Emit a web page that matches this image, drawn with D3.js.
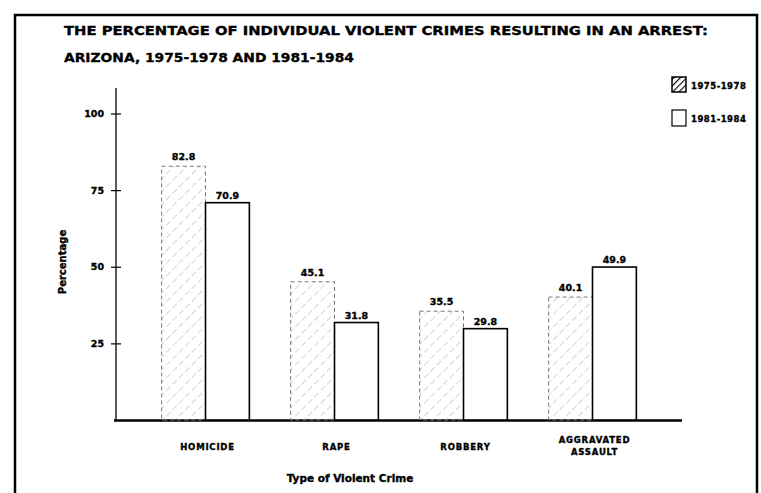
<html>
<head>
<meta charset="UTF-8" />
<script src="https://cdn.jsdelivr.net/npm/d3@7"></script>
<style>
  body { margin: 0; background: white; }
  text { font-family: "DejaVu Sans", sans-serif; font-weight: bold; fill: black; }
  .heavy { stroke: black; stroke-width: 0.35px; }
</style>
</head>
<body>
<div id="chart"></div>
<script>
// data
const crimes = ["HOMICIDE", "RAPE", "ROBBERY", "AGGRAVATED ASSAULT"];
const periods = ["1975-1978", "1981-1984"];
const early = [82.8, 45.1, 35.5, 40.1];
const late = [70.9, 31.8, 29.8, 49.9];
const yTicks = [25, 50, 75, 100];

const width = 761, height = 493;

const svg = d3.select("#chart").append("svg")
    .attr("width", width)
    .attr("height", height);

// hatch pattern for the older period
const defs = svg.append("defs");
defs.append("pattern")
    .attr("id", "hatch")
    .attr("patternUnits", "userSpaceOnUse")
    .attr("width", 9).attr("height", 9)
    .attr("patternTransform", "rotate(45)")
    .append("line")
    .attr("x1", 0).attr("y1", 0).attr("x2", 0).attr("y2", 9)
    .attr("stroke", "#aaa").attr("stroke-width", 1)
    .attr("stroke-dasharray", "3,3");
defs.append("pattern")
    .attr("id", "hatchDark")
    .attr("patternUnits", "userSpaceOnUse")
    .attr("width", 4.5).attr("height", 4.5)
    .attr("patternTransform", "rotate(45)")
    .append("line")
    .attr("x1", 0).attr("y1", 0).attr("x2", 0).attr("y2", 4.5)
    .attr("stroke", "black").attr("stroke-width", 2.2);

// frame of the figure (open at the bottom)
svg.append("path")
    .attr("d", "M15,493 V15 H757 V493")
    .attr("fill", "none")
    .attr("stroke", "black")
    .attr("stroke-width", 2.5);

// title
svg.append("text")
    .attr("class", "heavy")
    .attr("x", 64).attr("y", 35)
    .attr("textLength", 644).attr("lengthAdjust", "spacingAndGlyphs")
    .style("font-size", "12.5px")
    .text("THE PERCENTAGE OF INDIVIDUAL VIOLENT CRIMES RESULTING IN AN ARREST:");
svg.append("text")
    .attr("class", "heavy")
    .attr("x", 64).attr("y", 62)
    .attr("textLength", 290).attr("lengthAdjust", "spacingAndGlyphs")
    .style("font-size", "12.5px")
    .text("ARIZONA, 1975-1978 AND 1981-1984");

// scales
const y = d3.scaleLinear().domain([0, 100]).range([420, 113.5]);
const x = d3.scaleBand().domain(crimes).range([141, 657])
    .paddingInner(0.32).paddingOuter(0.16);
const xSub = d3.scaleBand().domain(periods).range([0, x.bandwidth()]);

// axes
const yAxis = svg.append("g")
    .attr("transform", "translate(116,0)")
    .call(d3.axisLeft(y).tickValues(yTicks).tickSize(5).tickPadding(7));
yAxis.select(".domain").remove();
yAxis.selectAll(".tick line").attr("x1", -5).attr("x2", 5).attr("stroke-width", 1.2);
yAxis.selectAll(".tick text")
    .attr("class", "heavy")
    .style("font-size", "9.5px")
    .style("font-family", "DejaVu Sans, sans-serif")
    .style("font-weight", "bold");

svg.append("line")
    .attr("x1", 116).attr("x2", 116)
    .attr("y1", 88).attr("y2", y(0))
    .attr("stroke", "black").attr("stroke-width", 1.3);
svg.append("line")
    .attr("x1", 114).attr("x2", 682)
    .attr("y1", y(0) + 0.5).attr("y2", y(0) + 0.5)
    .attr("stroke", "black").attr("stroke-width", 2.5);

svg.append("text")
    .attr("class", "heavy")
    .attr("transform", "translate(66,262) rotate(-90)")
    .attr("text-anchor", "middle")
    .style("font-size", "10px")
    .text("Percentage");

// bars
const groups = svg.append("g").selectAll("g")
    .data(crimes)
    .join("g")
    .attr("transform", d => "translate(" + x(d) + ",0)");

groups.append("rect")
    .attr("x", xSub(periods[0]))
    .attr("y", (d, i) => y(early[i]))
    .attr("width", xSub.bandwidth())
    .attr("height", (d, i) => y(0) - y(early[i]))
    .attr("fill", "url(#hatch)")
    .attr("stroke", "#777")
    .attr("stroke-width", 1)
    .attr("stroke-dasharray", "4,3");

groups.append("rect")
    .attr("x", xSub(periods[1]))
    .attr("y", (d, i) => y(late[i]))
    .attr("width", xSub.bandwidth())
    .attr("height", (d, i) => y(0) - y(late[i]))
    .attr("fill", "white")
    .attr("stroke", "black")
    .attr("stroke-width", 1.6);

// value labels
groups.append("text")
    .attr("class", "heavy")
    .attr("x", xSub(periods[0]) + xSub.bandwidth() / 2)
    .attr("y", (d, i) => y(early[i]) - 6)
    .attr("text-anchor", "middle")
    .style("font-size", "9.5px")
    .text((d, i) => early[i].toFixed(1));
groups.append("text")
    .attr("class", "heavy")
    .attr("x", xSub(periods[1]) + xSub.bandwidth() / 2)
    .attr("y", (d, i) => y(late[i]) - 4)
    .attr("text-anchor", "middle")
    .style("font-size", "9.5px")
    .text((d, i) => late[i].toFixed(1));

// category labels, long ones split on two lines
const catLabels = groups.append("text")
    .attr("class", "heavy")
    .attr("text-anchor", "middle")
    .style("font-size", "8.5px")
    .style("letter-spacing", "0.8px");
catLabels.each(function(d) {
    const words = d.split(" ");
    const t = d3.select(this);
    const top = words.length > 1 ? 443 : 450;
    words.forEach((w, k) => {
        t.append("tspan")
            .attr("x", x.bandwidth() / 2 + 2)
            .attr("y", top + k * 12)
            .text(w);
    });
});

svg.append("text")
    .attr("class", "heavy")
    .attr("x", 350).attr("y", 482)
    .attr("text-anchor", "middle")
    .style("font-size", "10.5px")
    .text("Type of Violent Crime");

// legend
const legend = svg.append("g");
legend.append("rect")
    .attr("x", 672).attr("y", 77).attr("width", 14).attr("height", 15)
    .attr("fill", "url(#hatchDark)")
    .attr("stroke", "black").attr("stroke-width", 1.5);
legend.append("rect")
    .attr("x", 672).attr("y", 110).attr("width", 14).attr("height", 16)
    .attr("fill", "white")
    .attr("stroke", "black").attr("stroke-width", 1.2);
legend.append("text")
    .attr("class", "heavy")
    .attr("x", 691).attr("y", 89)
    .style("font-size", "8.5px")
    .style("letter-spacing", "0.5px")
    .text(periods[0]);
legend.append("text")
    .attr("class", "heavy")
    .attr("x", 691).attr("y", 122)
    .style("font-size", "8.5px")
    .style("letter-spacing", "0.5px")
    .text(periods[1]);
</script>
</body>
</html>
